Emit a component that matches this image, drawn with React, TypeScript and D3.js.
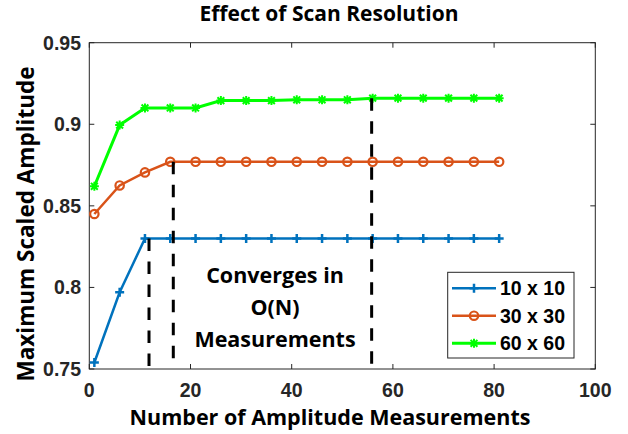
import React from "react";
import * as d3 from "d3";

const measurements = [1, 6, 11, 16, 21, 26, 31, 36, 41, 46, 51, 56, 61, 66, 71, 76, 81];
const res10 = [0.754, 0.797, 0.83, 0.83, 0.83, 0.83, 0.83, 0.83, 0.83, 0.83, 0.83, 0.83, 0.83, 0.83, 0.83, 0.83, 0.83];
const res30 = [0.845, 0.8625, 0.8705, 0.877, 0.877, 0.877, 0.877, 0.877, 0.877, 0.877, 0.877, 0.877, 0.877, 0.877, 0.877, 0.877, 0.877];
const res60 = [0.862, 0.8995, 0.91, 0.91, 0.91, 0.9145, 0.9145, 0.9145, 0.915, 0.915, 0.915, 0.916, 0.916, 0.916, 0.916, 0.916, 0.916];
const seriesNames = ["10 x 10", "30 x 30", "60 x 60"];
const seriesColors = ["#0072BD", "#D95319", "#00FF00"];
const seriesMarkers = ["plus", "circle", "star"];
const convergeX = [11.8, 16.6, 55.8];
const convergeY = [0.83, 0.877, 0.916];
const xTicks = [0, 20, 40, 60, 80, 100];
const yTicks = [0.75, 0.8, 0.85, 0.9, 0.95];
const annotationLines = ["Converges in", "O(N)", "Measurements"];

const W = 628, H = 434;
const L = 89.3, R = 595.3, T = 42.7, B = 369;
const x = d3.scaleLinear().domain([0, 100]).range([L, R]);
const y = d3.scaleLinear().domain([0.75, 0.95]).range([B, T]);
const axisColor = "#262626";
const calibri = "'Open Sans', Lato, sans-serif";
const arial = "'Liberation Sans', Arial, sans-serif";

function Marker({ type, cx, cy, color }: { type: string; cx: number; cy: number; color: string }) {
  const s = 4.5;
  if (type === "plus") {
    return <path d={`M${cx - s},${cy}H${cx + s}M${cx},${cy - s}V${cy + s}`} stroke={color} strokeWidth={2.5} fill="none" />;
  }
  if (type === "circle") {
    return <circle cx={cx} cy={cy} r={4.2} stroke={color} strokeWidth={2.2} fill="none" />;
  }
  const d = 3.4;
  return (
    <path
      d={`M${cx - s},${cy}H${cx + s}M${cx},${cy - s}V${cy + s}M${cx - d},${cy - d}L${cx + d},${cy + d}M${cx - d},${cy + d}L${cx + d},${cy - d}`}
      stroke={color}
      strokeWidth={2}
      fill="none"
    />
  );
}

export default function App() {
  const allSeries = [res10, res30, res60];
  const line = d3
    .line<number>()
    .x((_, i) => x(measurements[i]))
    .y((v) => y(v));

  const legX0 = 447.7, legY0 = 272.3, legW = 126.3, legH = 85.7;
  const legRows = [288.3, 315.7, 343.3];

  return (
    <svg width={W} height={H} style={{ position: "absolute", left: 0, top: 0, background: "#fff" }}>
      <rect x={0} y={0} width={W} height={H} fill="#fff" />
      {/* title */}
      <text x={329} y={21} textAnchor="middle" fontFamily={calibri} fontWeight="bold" fontSize={21} fill="#000">
        Effect of Scan Resolution
      </text>

      {/* axes box */}
      <rect x={L} y={T} width={R - L} height={B - T} fill="none" stroke={axisColor} strokeWidth={1} />
      {xTicks.map((t) => (
        <g key={"xt" + t}>
          <line x1={x(t)} x2={x(t)} y1={B} y2={B - 5} stroke={axisColor} />
          <line x1={x(t)} x2={x(t)} y1={T} y2={T + 5} stroke={axisColor} />
          <text x={x(t)} y={397} textAnchor="middle" fontFamily={arial} fontWeight="bold" fontSize={19.5} fill={axisColor}>
            {t}
          </text>
        </g>
      ))}
      {yTicks.map((t) => (
        <g key={"yt" + t}>
          <line x1={L} x2={L + 5} y1={y(t)} y2={y(t)} stroke={axisColor} />
          <line x1={R} x2={R - 5} y1={y(t)} y2={y(t)} stroke={axisColor} />
          <text x={81} y={y(t) + 7} textAnchor="end" fontFamily={arial} fontWeight="bold" fontSize={19.5} fill={axisColor}>
            {d3.format("")(t)}
          </text>
        </g>
      ))}

      {/* axis labels */}
      <text x={330} y={425} textAnchor="middle" fontFamily={calibri} fontWeight="bold" fontSize={21.5} fill="#000">
        Number of Amplitude Measurements
      </text>
      <text
        transform={`translate(33.5,224) rotate(-90)`}
        textAnchor="middle"
        fontFamily={calibri}
        fontWeight="bold"
        fontSize={22.5}
        fill="#000"
      >
        Maximum Scaled Amplitude
      </text>

      {/* series */}
      {allSeries.map((vals, si) => (
        <g key={"s" + si}>
          <path d={line(vals) || ""} fill="none" stroke={seriesColors[si]} strokeWidth={si === 2 ? 3 : 2.5} />
          {vals.map((v, i) => (
            <Marker key={i} type={seriesMarkers[si]} cx={x(measurements[i])} cy={y(v)} color={seriesColors[si]} />
          ))}
        </g>
      ))}

      {/* convergence lines */}
      {convergeX.map((cxv, i) => (
        <line
          key={"c" + i}
          x1={x(cxv)}
          x2={x(cxv)}
          y1={y(convergeY[i])}
          y2={B - 2}
          stroke="#000"
          strokeWidth={3}
          strokeDasharray="12.5,10.5"
        />
      ))}

      {/* annotation */}
      {annotationLines.map((s, i) => (
        <text key={"a" + i} x={275} y={283 + i * 32} textAnchor="middle" fontFamily={calibri} fontWeight="bold" fontSize={21.5} fill="#000">
          {s}
        </text>
      ))}

      {/* legend */}
      <rect x={legX0} y={legY0} width={legW} height={legH} fill="#fff" stroke={axisColor} strokeWidth={1} />
      {seriesNames.map((n, i) => (
        <g key={"l" + i}>
          <line x1={452} x2={496} y1={legRows[i]} y2={legRows[i]} stroke={seriesColors[i]} strokeWidth={i === 2 ? 3 : 2.5} />
          <Marker type={seriesMarkers[i]} cx={474} cy={legRows[i]} color={seriesColors[i]} />
          <text x={500} y={legRows[i] + 7} fontFamily={arial} fontWeight="bold" fontSize={19.5} fill="#000">
            {n}
          </text>
        </g>
      ))}
    </svg>
  );
}
